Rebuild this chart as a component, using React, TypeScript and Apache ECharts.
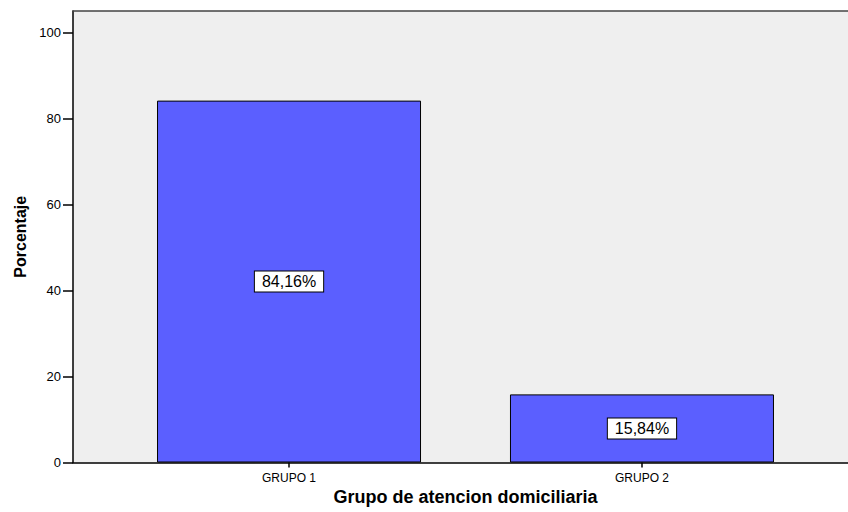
import React, { useEffect, useRef } from "react";
import * as echarts from "echarts";

const categories = ["GRUPO 1", "GRUPO 2"];
const percentages = [84.16, 15.84];
const yTickValues = [0, 20, 40, 60, 80, 100];
const xTitle = "Grupo de atencion domiciliaria";
const yTitle = "Porcentaje";

const FONT = "'Liberation Sans', Arial, Helvetica, sans-serif";

export default function App() {
  const ref = useRef<HTMLDivElement>(null);

  useEffect(() => {
    if (!ref.current) return;
    const chart = echarts.init(ref.current, undefined, { renderer: "svg" });
    const positions = categories.map((_, i) => i + 1);
    chart.setOption({
      animation: false,
      backgroundColor: "#ffffff",
      grid: {
        left: 73,
        top: 11,
        right: -10,
        bottom: 49.5,
        outerBoundsMode: "none",
        containLabel: false,
        show: true,
        backgroundColor: "#EFEFEF",
        borderWidth: 0,
      },
      xAxis: [
        {
          type: "value",
          min: 0.388,
          max: 2.612,
          name: xTitle,
          nameLocation: "middle",
          nameGap: 24,
          nameTextStyle: {
            fontFamily: FONT,
            fontSize: 18,
            fontWeight: "bold",
            color: "#000",
          },
          splitLine: { show: false },
          axisLine: { show: true, lineStyle: { color: "#000", width: 1.5 } },
          axisTick: {
            show: true,
            length: 5,
            customValues: positions,
            lineStyle: { color: "#000", width: 1.5 },
          },
          axisLabel: {
            customValues: positions,
            margin: 9,
            fontFamily: FONT,
            fontSize: 12,
            color: "#000",
            formatter: (v: number) => categories[Math.round(v) - 1] ?? "",
          },
        },
        {
          type: "value",
          position: "top",
          min: 0.388,
          max: 2.612,
          splitLine: { show: false },
          axisLine: { show: true, lineStyle: { color: "#444", width: 1.5 } },
          axisTick: { show: false },
          axisLabel: { show: false },
        },
      ],
      yAxis: {
        type: "value",
        min: 0,
        max: 105,
        name: yTitle,
        nameLocation: "middle",
        nameGap: 45,
        nameTextStyle: {
          fontFamily: FONT,
          fontSize: 16,
          fontWeight: "bold",
          color: "#000",
        },
        splitLine: { show: false },
        axisLine: { show: true, lineStyle: { color: "#000", width: 1.5 } },
        axisTick: {
          show: true,
          length: 10,
          customValues: yTickValues,
          lineStyle: { color: "#000", width: 1.5 },
        },
        axisLabel: {
          customValues: yTickValues,
          margin: 12,
          fontFamily: FONT,
          fontSize: 13,
          color: "#000",
        },
      },
      series: [
        {
          type: "bar",
          xAxisIndex: 0,
          barWidth: 264,
          data: percentages.map((v, i) => [positions[i], v]),
          itemStyle: {
            color: "#5B5FFF",
            borderColor: "#000",
            borderWidth: 1,
          },
          label: {
            show: true,
            position: "inside",
            fontFamily: FONT,
            fontSize: 16,
            lineHeight: 18,
            color: "#000",
            backgroundColor: "#fff",
            borderColor: "#000",
            borderWidth: 1,
            padding: [1, 7, 1, 7],
            formatter: (p: any) =>
              p.value[1].toFixed(2).replace(".", ",") + "%",
          },
        },
      ],
    });
    return () => chart.dispose();
  }, []);

  return (
    <div
      style={{
        position: "fixed",
        left: 0,
        top: 0,
        width: 848,
        height: 512,
        overflow: "hidden",
        background: "#fff",
      }}
    >
      <div ref={ref} style={{ width: 848, height: 512 }} />
    </div>
  );
}
